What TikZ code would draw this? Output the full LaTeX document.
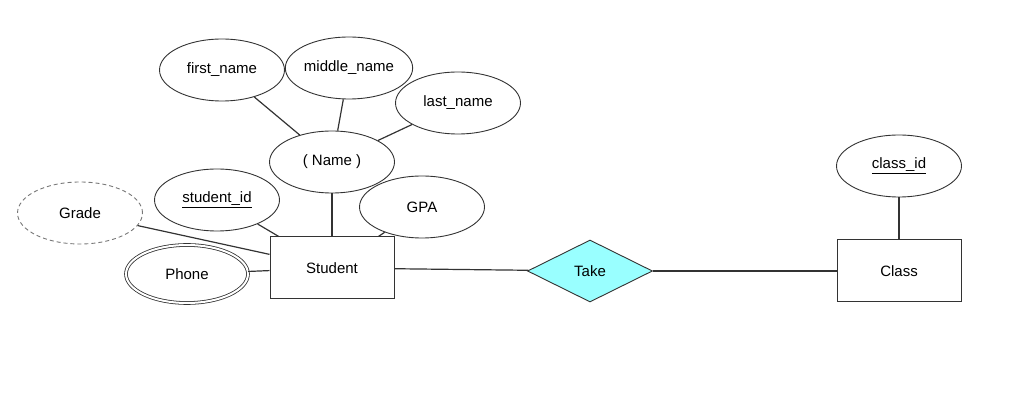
\documentclass[tikz,border=0pt]{standalone}
\usepackage{fontspec}
\setmainfont{Liberation Sans}
\usetikzlibrary{shapes.geometric}
\definecolor{linecol}{HTML}{333333}
\definecolor{takefill}{HTML}{99FFFF}
\definecolor{weakcol}{HTML}{777777}
\tikzset{
  attr/.style={ellipse, draw=linecol, line width=0.9pt, fill=white, inner sep=0pt, minimum width=125pt, minimum height=62pt, font=\fontsize{15}{18}\selectfont},
  entity/.style={rectangle, draw=linecol, line width=1pt, fill=white, inner sep=0pt, minimum width=124pt, minimum height=62pt, font=\fontsize{15}{18}\selectfont},
  rel/.style={diamond, draw=linecol, line width=0.9pt, fill=takefill, inner sep=0pt, minimum width=125pt, minimum height=62pt, font=\fontsize{15}{18}\selectfont},
  derived/.style={attr, draw=weakcol, dash pattern=on 4pt off 3pt},
  multi/.style={attr, double=white, double distance=2pt, line width=0.8pt, minimum width=122pt, minimum height=58pt},
  conn/.style={draw=linecol, line width=1.2pt}
}
\begin{document}
\begin{tikzpicture}[x=1pt, y=-1pt]
\useasboundingbox (0,0) rectangle (1010,419);
\node[attr] (first) at (222,70) {first\_name};
\node[attr] (middle) at (349,68) {middle\_name};
\node[attr] (last) at (458,103) {last\_name};
\node[attr] (name) at (332,162) {( Name )};
\node[attr] (sid) at (217,200) {\underline{student\_id}};
\node[attr] (gpa) at (422,207) {GPA};
\node[derived] (grade) at (80,213) {Grade};
\node[multi] (phone) at (187,274) {Phone};
\node[entity] (student) at (332,268) {Student};
\node[rel] (take) at (590,271) {Take};
\node[entity] (class) at (899,271) {Class};
\node[attr] (cid) at (899,166) {\underline{class\_id}};
\path[conn] (first) -- (name);
\path[conn] (middle) -- (name);
\path[conn] (last) -- (name);
\path[conn] (name) -- (student);
\path[conn] (sid) -- (student);
\path[conn] (gpa) -- (student);
\path[conn] (grade) -- (student);
\path[conn] (phone) -- (student);
\path[conn] (student) -- (take);
\path[conn] (take) -- (class);
\path[conn] (cid) -- (class);
\end{tikzpicture}
\end{document}
